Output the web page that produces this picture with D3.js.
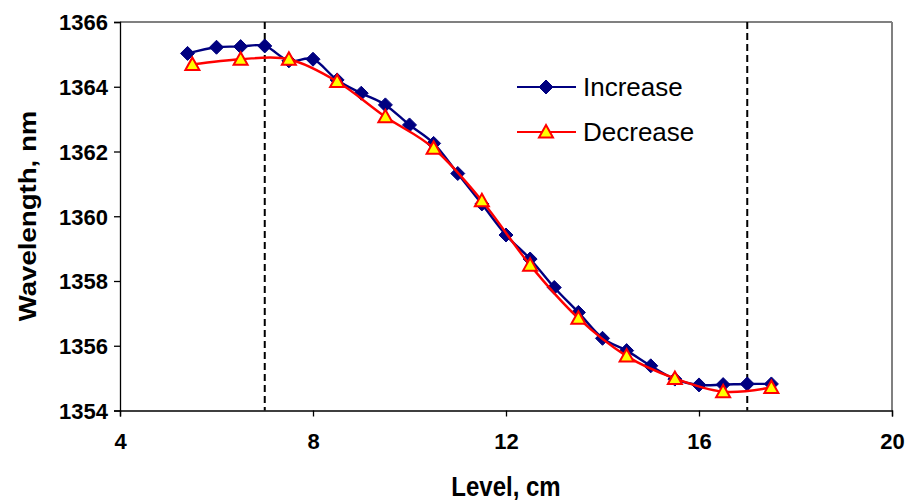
<!DOCTYPE html>
<html><head><meta charset="utf-8">
<script src="https://cdn.jsdelivr.net/npm/d3@7"></script>
<style>body{margin:0;background:#fff;} svg{display:block;}</style>
</head><body>
<svg id="c" width="909" height="500"></svg>
<script>
const incX = [5.4,6,6.5,7,7.5,8,8.5,9,9.5,10,10.5,11,11.5,12,12.5,13,13.5,14,14.5,15,15.5,16,16.5,17,17.5];
const incY = [1365.03,1365.22,1365.24,1365.26,1364.80,1364.85,1364.21,1363.80,1363.44,1362.82,1362.25,1361.32,1360.38,1359.42,1358.68,1357.80,1357.03,1356.23,1355.85,1355.38,1354.97,1354.79,1354.80,1354.82,1354.82];
const decX = [5.5,6.5,7.5,8.5,9.5,10.5,11.5,12.5,13.5,14.5,15.5,16.5,17.5];
const decY = [1364.69,1364.85,1364.85,1364.16,1363.07,1362.10,1360.48,1358.49,1356.85,1355.68,1354.99,1354.58,1354.71];
const xTicks = [4,8,12,16,20];
const yTicks = [1354,1356,1358,1360,1362,1364,1366];
const refLines = [7,17];
const seriesNames = ["Increase","Decrease"];

const svg = d3.select("#c");
const L=120,R=892,T=22,B=410.5;
const x = d3.scaleLinear().domain([4,20]).range([L,R]);
const y = d3.scaleLinear().domain([1354,1366]).range([B,T]);

svg.append("line").attr("x1",L).attr("x2",R).attr("y1",T).attr("y2",T).attr("stroke","#808080").attr("stroke-width",2);
svg.append("line").attr("x1",R).attr("x2",R).attr("y1",T).attr("y2",B).attr("stroke","#808080").attr("stroke-width",2);

const font = "'Liberation Sans', Arial, sans-serif";
const yAxis = svg.append("g").attr("transform",`translate(${L},0)`)
  .call(d3.axisLeft(y).tickValues(yTicks).tickSize(6).tickFormat(d3.format("d")));
const xAxis = svg.append("g").attr("transform",`translate(0,${B})`)
  .call(d3.axisBottom(x).tickValues(xTicks).tickSize(6).tickFormat(d3.format("d")));
[yAxis,xAxis].forEach(a=>{
  a.select(".domain").attr("stroke","#000").attr("stroke-width",1.3);
  a.selectAll(".tick line").attr("stroke","#000").attr("stroke-width",1.3);
  a.selectAll("text").attr("font-family",font).attr("font-weight","bold").attr("font-size",22).attr("fill","#000");
});
yAxis.selectAll(".tick text").attr("x",-12).attr("dy","0.36em");
xAxis.selectAll(".tick text").attr("y",23).attr("dy","0.71em");

svg.selectAll(".ref").data(refLines).enter().append("line")
  .attr("x1",d=>x(d)).attr("x2",d=>x(d)).attr("y1",T).attr("y2",B)
  .attr("stroke","#000").attr("stroke-width",2).attr("stroke-dasharray","7,4");

const line = d3.line().x(d=>x(d[0])).y(d=>y(d[1])).curve(d3.curveCardinal.tension(0));
const inc = incX.map((v,i)=>[v,incY[i]]);
const dec = decX.map((v,i)=>[v,decY[i]]);
const diamond = "M0,-7L7,0L0,7L-7,0Z";
const tri = "M0,-7L7,5.5L-7,5.5Z";

svg.append("path").datum(inc).attr("d",line).attr("fill","none").attr("stroke","#000080").attr("stroke-width",2.4);
svg.selectAll(".dia").data(inc).enter().append("path").attr("d",diamond)
  .attr("transform",d=>`translate(${x(d[0])},${y(d[1])})`).attr("fill","#000080").attr("stroke","#000080").attr("stroke-width",1);
svg.append("path").datum(dec).attr("d",line).attr("fill","none").attr("stroke","#FF0000").attr("stroke-width",2.4);
svg.selectAll(".tri").data(dec).enter().append("path").attr("d",tri)
  .attr("transform",d=>`translate(${x(d[0])},${y(d[1])})`).attr("fill","#FFFF00").attr("stroke","#FF0000").attr("stroke-width",2);

const lg = svg.append("g");
const legItems = [{name:seriesNames[0],c:"#000080",m:diamond,fill:"#000080",sw:1,yy:87},
                  {name:seriesNames[1],c:"#FF0000",m:tri,fill:"#FFFF00",sw:2,yy:132}];
legItems.forEach(it=>{
  lg.append("line").attr("x1",517).attr("x2",576).attr("y1",it.yy).attr("y2",it.yy).attr("stroke",it.c).attr("stroke-width",2.2);
  lg.append("path").attr("d",it.m).attr("transform",`translate(546,${it.yy})`).attr("fill",it.fill).attr("stroke",it.c).attr("stroke-width",it.sw);
  lg.append("text").attr("x",583).attr("y",it.yy).attr("dy","0.36em").attr("font-family",font).attr("font-size",26).attr("fill","#000").text(it.name);
});

svg.append("text").attr("transform",`translate(506,496) scale(1,1.15)`).attr("text-anchor","middle")
  .attr("font-family",font).attr("font-weight","bold").attr("font-size",24).text("Level, cm");
svg.append("text").attr("transform",`translate(36,216) rotate(-90) scale(1.15,1)`).attr("text-anchor","middle")
  .attr("font-family",font).attr("font-weight","bold").attr("font-size",24).text("Wavelength, nm");
</script>
</body></html>
